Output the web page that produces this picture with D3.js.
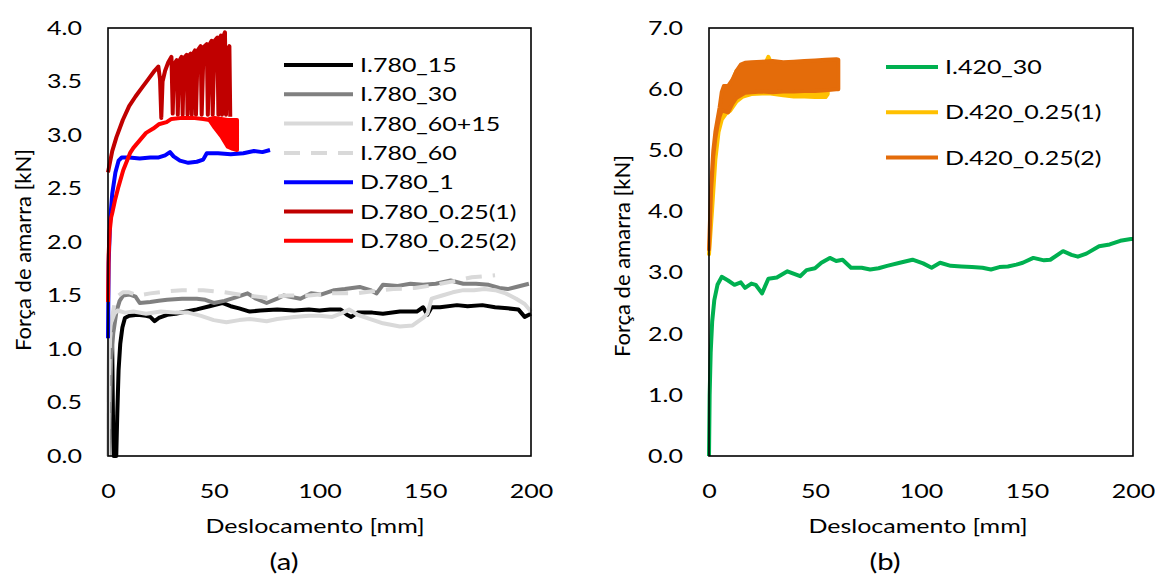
<!DOCTYPE html>
<html><head><meta charset="utf-8">
<script src="https://cdn.jsdelivr.net/npm/d3@7"></script>
<style>
body{margin:0;background:#fff}
svg text{font-family:Lato,'Open Sans',sans-serif;fill:#000}
</style>
</head><body>
<svg id="c" width="1155" height="579"></svg>
<script>
// ---------------- DATA ----------------
const xTicks = [0, 50, 100, 150, 200];
const yTicksA = [0, 0.5, 1, 1.5, 2, 2.5, 3, 3.5, 4];
const yTicksB = [0, 1, 2, 3, 4, 5, 6, 7];
const xTitle = "Deslocamento [mm]";
const yTitle = "Força de amarra [kN]";
const panelLabels = ["(a)", "(b)"];

const namesA = ["I.780_15", "I.780_30", "I.780_60+15", "I.780_60", "D.780_1", "D.780_0.25(1)", "D.780_0.25(2)"];
const namesB = ["I.420_30", "D.420_0.25(1)", "D.420_0.25(2)"];

// [deslocamento mm, força kN]
const i780_15 = [[0.9,1.05],[1.5,1.22],[2.0,1.0],[2.4,0.3],[2.7,0.0],[3.9,0.0],[4.4,0.4],[5.0,0.8],[5.8,1.05],[6.8,1.2],[8,1.29],[10,1.31],[14,1.32],[18,1.31],[20,1.30],[22,1.26],[24,1.29],[28,1.32],[32,1.33],[37,1.35],[42,1.37],[48,1.40],[54,1.43],[58,1.40],[62,1.38],[67,1.35],[72,1.36],[80,1.37],[88,1.36],[95,1.37],[100,1.36],[105,1.37],[110,1.37],[113,1.32],[115,1.30],[118,1.34],[125,1.34],[130,1.33],[138,1.35],[146,1.35],[149,1.39],[151,1.32],[153,1.39],[157,1.39],[165,1.41],[170,1.40],[177,1.41],[183,1.39],[189,1.38],[194,1.37],[197,1.30],[200,1.33]];
const i780_30 = [[0.3,0.0],[1.5,0.9],[2.5,1.15],[4,1.35],[5.5,1.45],[7.2,1.50],[10,1.51],[13,1.49],[15,1.43],[20,1.44],[24,1.45],[28,1.46],[35,1.47],[42,1.47],[46,1.46],[50,1.43],[55,1.45],[60,1.48],[66,1.52],[70,1.47],[75,1.43],[80,1.47],[83,1.50],[91,1.47],[96,1.52],[101,1.51],[107,1.55],[112,1.56],[119,1.58],[124,1.55],[127,1.52],[130,1.60],[137,1.59],[143,1.61],[149,1.60],[155,1.61],[162,1.64],[168,1.61],[174,1.61],[180,1.60],[185,1.57],[189,1.56],[193,1.58],[199,1.61]];
const i780_60_15 = [[0,0.0],[0.2,0.8],[0.5,1.1],[1.5,1.25],[3,1.33],[4.5,1.36],[8,1.34],[12,1.35],[18,1.33],[25,1.35],[32,1.34],[38,1.34],[44,1.31],[50,1.27],[56,1.25],[62,1.27],[67,1.28],[75,1.26],[80,1.28],[88,1.30],[95,1.31],[100,1.31],[106,1.30],[110,1.33],[114,1.37],[118,1.32],[124,1.28],[130,1.24],[138,1.21],[144,1.22],[149,1.29],[151,1.33],[153,1.47],[158,1.50],[163,1.53],[168,1.55],[173,1.55],[178,1.56],[183,1.55],[188,1.52],[193,1.47],[197,1.42],[200,1.35]];
const i780_60 = [[0,0.0],[0.3,0.6],[1,1.1],[2,1.3],[3,1.42],[5,1.5],[7,1.53],[10,1.53],[14,1.5],[20,1.52],[28,1.54],[35,1.55],[45,1.55],[55,1.53],[65,1.50],[75,1.48],[85,1.50],[95,1.50],[105,1.52],[117,1.52],[125,1.54],[135,1.56],[145,1.57],[155,1.60],[165,1.64],[172,1.67],[178,1.68],[183,1.69]];
const d780_1 = [[0,1.1],[0.3,1.8],[1,2.2],[2,2.45],[3.5,2.65],[5,2.76],[6.5,2.79],[10,2.79],[15,2.78],[20,2.79],[24,2.79],[27,2.81],[29.3,2.84],[31,2.80],[34,2.76],[38,2.74],[42,2.75],[45,2.77],[46.7,2.83],[52,2.83],[58,2.82],[64,2.83],[69,2.85],[73,2.84],[76.6,2.86]];
const d780_025_1 = [[0,2.65],[2,2.85],[4,2.98],[7,3.14],[10,3.27],[13,3.36],[16,3.44],[19,3.52],[22,3.60],[23.8,3.64],[24.6,3.52],[25.2,3.16],[25.8,3.50],[27,3.60],[28.5,3.68],[30,3.73],[30.6,3.20],[31.2,3.66],[32.5,3.70],[33.0,3.19],[33.6,3.69],[34.8,3.73],[35.3,3.19],[35.9,3.72],[37.2,3.75],[37.6,3.19],[38.2,3.74],[39.1,3.76],[39.6,3.19],[40.2,3.76],[41.1,3.79],[41.6,3.19],[42.4,3.79],[43.8,3.83],[44.3,3.19],[45.2,3.82],[46.7,3.85],[47.2,3.19],[48.1,3.85],[49.0,3.88],[49.5,3.19],[50.4,3.88],[51.7,3.91],[52.2,3.19],[52.7,3.90],[53.4,3.93],[53.9,3.19],[54.5,3.92],[55.3,3.96],[55.8,3.19],[56.6,3.80],[57.4,3.83],[57.8,3.17]];
const d780_025_2 = [[0,1.44],[0.3,1.88],[0.8,2.10],[1.5,2.23],[2,2.27],[3.3,2.39],[5,2.52],[7.2,2.67],[10.4,2.83],[12,2.88],[15,2.95],[18,3.02],[21.4,3.06],[24,3.10],[27.7,3.12],[30,3.15],[35,3.16],[40,3.16],[45,3.15],[48,3.14]];
// oscillating part: [mm, min kN, max kN]
const d780_025_2_band = [[48,3.14,3.15],[50.4,3.07,3.16],[53.5,2.99,3.15],[56.6,2.89,3.14],[59,2.87,3.14],[61,2.86,3.14]];

const i420_30 = [[0,0],[0.3,1.0],[0.8,1.7],[1.5,2.2],[2.5,2.55],[4,2.8],[6,2.93],[9,2.87],[12,2.80],[15,2.84],[17,2.75],[20,2.82],[22,2.80],[25,2.66],[28,2.90],[32,2.92],[37,3.02],[43,2.94],[46,3.04],[50,3.07],[53,3.16],[57,3.24],[60,3.19],[63,3.21],[67,3.08],[72,3.08],[76,3.05],[80,3.07],[84,3.11],[90,3.16],[96,3.21],[101,3.15],[105,3.08],[109,3.16],[114,3.11],[119,3.10],[124,3.09],[129,3.08],[133,3.05],[137,3.09],[141,3.10],[145,3.13],[148,3.16],[153,3.24],[158,3.20],[161,3.21],[167,3.35],[171,3.29],[174,3.26],[178,3.31],[184,3.43],[189,3.46],[194,3.52],[199,3.55],[200,3.55]];
// oscillating band: [mm, min kN, max kN]
const d420_025_1 = [[0,3.30,3.30],[1.5,4.05,4.1],[3,4.85,4.9],[4.5,5.3,5.4],[6,5.5,5.7],[8,5.6,5.95],[10,5.65,6.05],[13,5.8,6.3],[16,5.88,6.38],[20,5.92,6.42],[25,5.93,6.44],[27,5.93,6.45],[28,5.93,6.53],[29,5.93,6.45],[35,5.9,6.42],[40,5.88,6.4],[45,5.88,6.4],[50,5.87,6.4],[55,5.87,6.4],[56,5.92,6.35]];
const d420_025_2 = [[0,3.38,3.38],[1,4.35,4.4],[2,4.9,4.98],[3,5.2,5.3],[4,5.4,5.5],[5,5.55,5.7],[6,5.65,5.95],[7,5.64,6.05],[9,5.62,6.05],[11,5.76,6.15],[13,5.86,6.30],[15,5.90,6.40],[17,5.94,6.43],[20,5.95,6.44],[25,5.96,6.45],[30,5.95,6.46],[35,5.96,6.44],[40,5.96,6.45],[45,5.97,6.46],[50,5.97,6.47],[55,5.98,6.48],[60,6.0,6.49],[61,6.0,6.48]];

// ---------------- DRAWING ----------------
const svg = d3.select('#c');
const FS = 20, SX = 1.25, LW = 4;
const colA = ["#000000", "#808080", "#d9d9d9", "#d9d9d9", "#0000ff", "#c00000", "#ff0000"];
const dashA = [null, null, null, "16,11", null, null, null];
const colB = ["#00b050", "#ffc000", "#e46c0a"];

function label(g, x, y, s, anchor, opts) {
  opts = opts || {};
  const fs = opts.fs || FS;
  const tr = opts.rot
    ? `translate(${x},${y}) rotate(${opts.rot})`
    : `translate(${x},${y}) scale(${opts.sx || SX},1)`;
  return g.append('text').attr('font-size', fs).attr('text-anchor', anchor || 'middle')
    .attr('dy', '0.35em').attr('transform', tr).text(s);
}

function panel(cfg) {
  const g = svg.append('g');
  const x = d3.scaleLinear().domain([0, 200]).range([cfg.left, cfg.left + cfg.w]);
  const y = d3.scaleLinear().domain([0, cfg.yMax]).range([cfg.top + cfg.h, cfg.top]);
  const line = d3.line().x(d => x(d[0])).y(d => y(d[1]));
  const area = d3.area().x(d => x(d[0])).y0(d => y(d[1])).y1(d => y(d[2]));

  // axes (labels only, no tick marks)
  const ya = g.append('g').attr('transform', `translate(${cfg.left},0)`)
    .call(d3.axisLeft(y).tickValues(cfg.yTicks).tickFormat(d3.format('.1f')).tickSize(0).tickPadding(26));
  const xa = g.append('g').attr('transform', `translate(0,${cfg.top + cfg.h})`)
    .call(d3.axisBottom(x).tickValues(xTicks).tickFormat(d3.format('d')).tickSize(0).tickPadding(28));
  [ya, xa].forEach(a => {
    a.select('.domain').remove();
    a.selectAll('text').attr('font-size', FS).attr('font-family', "Lato,'Open Sans',sans-serif").attr('fill', '#000');
  });
  ya.selectAll('text').attr('transform', `scale(${SX},1)`).attr('x', -26 / SX);
  xa.selectAll('text').attr('transform', `scale(${SX},1)`).attr('x', 0);

  const plot = g.append('g');
  cfg.bands.forEach(b => {
    plot.append('path').datum(b.data).attr('d', area)
      .attr('fill', b.color).attr('stroke', b.color).attr('stroke-width', LW).attr('stroke-linejoin', 'round');
  });
  cfg.lines.forEach(s => {
    plot.append('path').datum(s.data).attr('d', line).attr('fill', 'none')
      .attr('stroke', s.color).attr('stroke-width', LW).attr('stroke-linejoin', 'round')
      .attr('stroke-dasharray', s.dash);
  });
  (cfg.overBands || []).forEach(b => {
    plot.append('path').datum(b.data).attr('d', area)
      .attr('fill', b.color).attr('stroke', b.color).attr('stroke-width', LW).attr('stroke-linejoin', 'round');
  });

  // frame
  g.append('rect').attr('x', cfg.left).attr('y', cfg.top).attr('width', cfg.w).attr('height', cfg.h)
    .attr('fill', 'none').attr('stroke', '#000').attr('stroke-width', 1.6);

  // legend
  const lg = g.append('g');
  cfg.legend.names.forEach((n, i) => {
    const yy = cfg.legend.y0 + i * cfg.legend.dy;
    lg.append('line').attr('x1', cfg.legend.x1).attr('x2', cfg.legend.x2).attr('y1', yy).attr('y2', yy)
      .attr('stroke', cfg.legend.colors[i]).attr('stroke-width', LW)
      .attr('stroke-dasharray', cfg.legend.dash ? cfg.legend.dash[i] : null);
    label(lg, cfg.legend.tx, yy, n, 'start');
  });

  label(g, cfg.xTitleX, 526, xTitle, 'middle');
  label(g, cfg.yTitleX, cfg.yTitleY, yTitle, 'middle', {rot: -90, fs: 22});
  label(g, cfg.tagX, 562, cfg.tag, 'middle', {fs: 24, sx: 1.22});
}

panel({
  left: 108, top: 28, w: 423, h: 428, yMax: 4, yTicks: yTicksA,
  lines: [
    {data: i780_15, color: colA[0]},
    {data: i780_30, color: colA[1]},
    {data: i780_60_15, color: colA[2]},
    {data: i780_60, color: colA[3], dash: dashA[3]},
    {data: d780_1, color: colA[4]},
    {data: d780_025_1, color: colA[5]},
    {data: d780_025_2, color: colA[6]}
  ],
  bands: [],
  overBands: [{data: d780_025_2_band, color: colA[6]}],
  legend: {names: namesA, colors: colA, dash: dashA, y0: 65, dy: 29.3, x1: 284, x2: 353, tx: 360},
  xTitleX: 315, yTitleX: 23, yTitleY: 250, tagX: 284, tag: panelLabels[0]
});

panel({
  left: 709, top: 28, w: 424, h: 428, yMax: 7, yTicks: yTicksB,
  lines: [{data: i420_30, color: colB[0]}],
  bands: [{data: d420_025_1, color: colB[1]}, {data: d420_025_2, color: colB[2]}],
  legend: {names: namesB, colors: colB, y0: 67, dy: 45.3, x1: 886, x2: 938, tx: 945},
  xTitleX: 918, yTitleX: 622, yTitleY: 256, tagX: 885, tag: panelLabels[1]
});
</script>
</body></html>
